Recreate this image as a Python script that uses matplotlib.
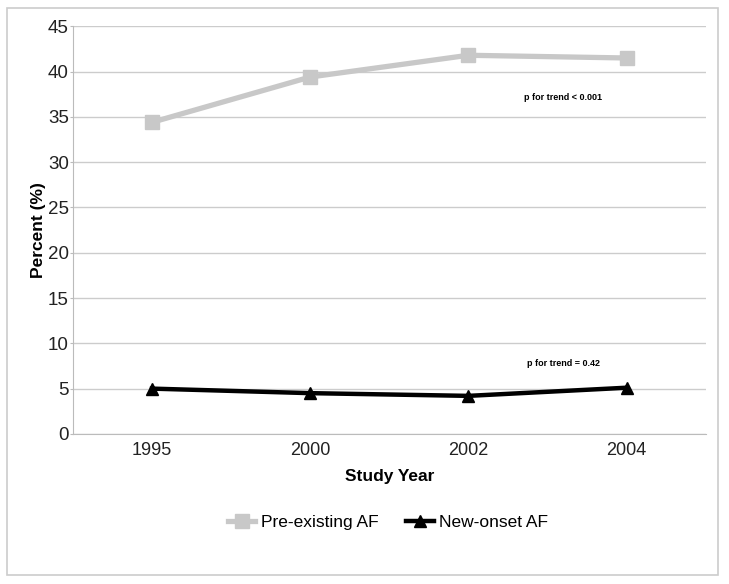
import matplotlib
matplotlib.use('Agg')
import matplotlib.pyplot as plt
from matplotlib.patches import Rectangle

years = ["1995", "2000", "2002", "2004"]
pre_existing = [34.4, 39.4, 41.8, 41.5]
new_onset = [5.0, 4.5, 4.2, 5.1]

plt.rcParams['font.family'] = ['Liberation Sans', 'DejaVu Sans']

fig = plt.figure(figsize=(7.29, 5.84), dpi=100)
ax = fig.add_axes([0.100, 0.257, 0.868, 0.698])

fig.patches.append(Rectangle((0.010, 0.015), 0.975, 0.972, transform=fig.transFigure,
                             fill=False, edgecolor="#cccccc", linewidth=1.2))

x = range(len(years))
ax.plot(x, pre_existing, color="#c8c8c8", linewidth=3.8, marker="s", markersize=10,
        label="Pre-existing AF", zorder=3)
ax.plot(x, new_onset, color="black", linewidth=3.2, marker="^", markersize=8,
        label="New-onset AF", zorder=3)

ax.set_xlim(-0.5, 3.5)
ax.set_ylim(0, 45)
ax.set_yticks(range(0, 46, 5))
ax.set_xticks(list(x))
ax.set_xticklabels(years)
ax.yaxis.grid(True, color="#cccccc", linewidth=1)
ax.set_axisbelow(True)
for s in ["top", "right"]:
    ax.spines[s].set_visible(False)
ax.spines["left"].set_color("#bbbbbb")
ax.spines["bottom"].set_color("#bbbbbb")
ax.tick_params(axis="x", labelsize=13, colors="#222222", length=0, pad=6)
ax.tick_params(axis="y", labelsize=13.5, colors="#222222", length=2, pad=1, color="#bbbbbb")

ax.set_xlabel("Study Year", fontsize=12.5, fontweight="bold", labelpad=7)
ax.set_ylabel("Percent (%)", fontsize=12.5, fontweight="bold", labelpad=1)

ax.text(2.6, 37.1, "p for trend < 0.001", fontsize=6.5, fontweight="bold", ha="center", va="center")
ax.text(2.6, 7.8, "p for trend = 0.42", fontsize=6.5, fontweight="bold", ha="center", va="center")

fig.legend(loc="center", bbox_to_anchor=(0.532, 0.106), ncol=2, frameon=False,
           fontsize=12.5, handlelength=1.6, handletextpad=0.3, columnspacing=1.6)

fig.savefig("out.png", dpi=100)
